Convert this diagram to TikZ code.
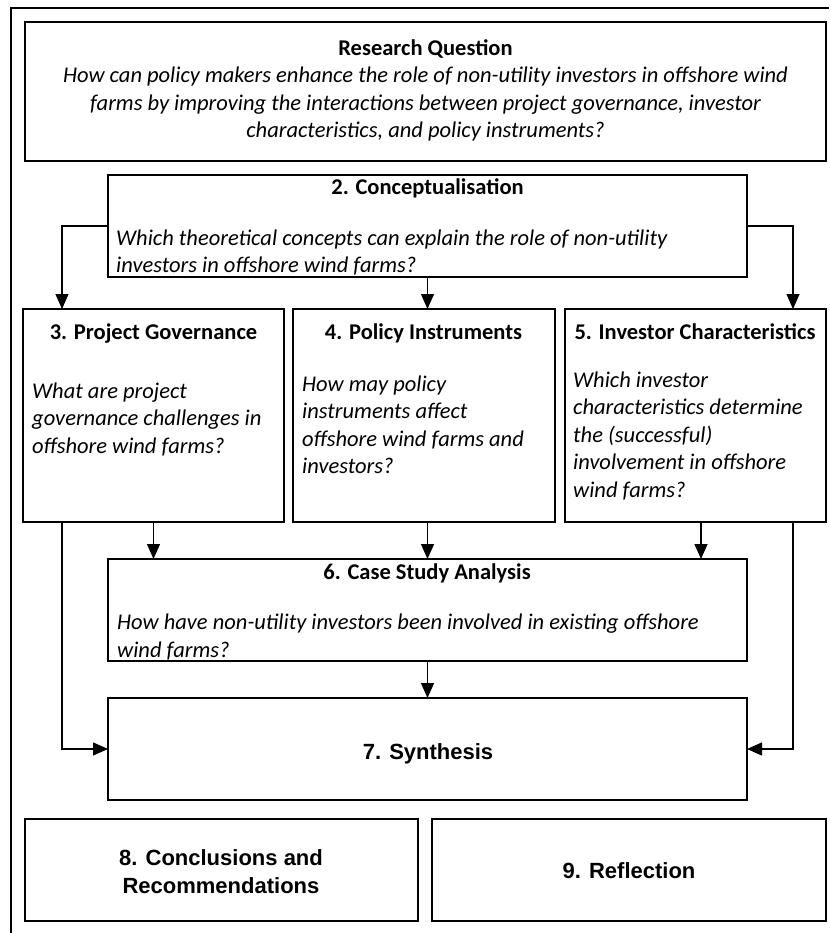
\documentclass[tikz,border=0pt]{standalone}
\usepackage{fontspec}
\setmainfont{Carlito}
\newfontfamily\arialfont{Liberation Sans}
\usetikzlibrary{arrows.meta,calc}

\tikzset{
	box/.style={draw, line width=1.2pt, inner sep=0pt, outer sep=0pt},
	head/.style={font=\fontsize{22.5}{27.5}\selectfont\bfseries, inner sep=0pt, anchor=base},
	ques/.style={font=\fontsize{22.5}{27.5}\selectfont\itshape, align=left, inner sep=0pt, anchor=base west},
	big/.style={font=\arialfont\fontsize{22}{28}\selectfont\bfseries, align=center, inner sep=0pt, anchor=base},
	arr/.style={line width=1.2pt, -{Triangle[length=15pt,width=13pt]}},
}

\begin{document}
\begin{tikzpicture}[x=1pt,y=-1pt]
	\useasboundingbox (0,0) rectangle (829,933);
	\draw[line width=1.5pt] (11,933) -- (11,8) -- (829,8);

	% boxes
	\node[box, minimum width=801pt, minimum height=139pt] (rq) at (425.5,91.5) {};
	\node[box, minimum width=639pt, minimum height=102pt] (concept) at (427.5,226) {};
	\node[box, minimum width=261pt, minimum height=213pt] (govern) at (153.5,415.5) {};
	\node[box, minimum width=262pt, minimum height=213pt] (policy) at (424,415.5) {};
	\node[box, minimum width=261pt, minimum height=213pt] (investor) at (695.5,415.5) {};
	\node[box, minimum width=639pt, minimum height=102pt] (casestudy) at (427.5,610) {};
	\node[box, minimum width=639pt, minimum height=102pt] (synth) at (427.5,749) {};
	\node[box, minimum width=393pt, minimum height=102pt] (concl) at (221.5,870) {};
	\node[box, minimum width=394pt, minimum height=102pt] (reflect) at (629,870) {};

	% texts (multi-line nodes sit on the baseline of their last line)
	\node[head] (rqhead) at (425.5,56) {Research Question};
	\node[ques, align=center, anchor=base] (rqtext) at (425.5,138) {How can policy makers enhance the role of non-utility investors in offshore wind\\farms by improving the interactions between project governance, investor\\characteristics, and policy instruments?};

	\node[head] (concepthead) at (427.5,195) {2. Conceptualisation};
	\node[ques] (concepttext) at (116,272.5) {Which theoretical concepts can explain the role of non-utility\\investors in offshore wind farms?};

	\node[head] (governhead) at (153.5,339) {3. Project Governance};
	\node[ques] (governtext) at (32,453) {What are project\\governance challenges in\\offshore wind farms?};

	\node[head] (policyhead) at (423.5,339) {4. Policy Instruments};
	\node[ques] (policytext) at (302,473.5) {How may policy\\instruments affect\\offshore wind farms and\\investors?};

	\node[head] (investorhead) at (695,339) {5. Investor Characteristics};
	\node[ques] (investortext) at (573,497) {Which investor\\characteristics determine\\the (successful)\\involvement in offshore\\wind farms?};

	\node[head] (casehead) at (427,579) {6. Case Study Analysis};
	\node[ques] (casetext) at (117,657) {How have non-utility investors been involved in existing offshore\\wind farms?};

	\node[big] (synthtext) at (428,759) {7. Synthesis};
	\node[big] (concltext) at (221,893) {8. Conclusions and\\Recommendations};
	\node[big] (reflecttext) at (629,878) {9. Reflection};

	% arrows
	\draw[arr] (concept.west) -| ($(govern.north west)+(39,0)$);
	\draw[arr] (concept.east) -| ($(investor.north east)+(-33,0)$);
	\draw[arr] (concept.south) -- (concept.south |- policy.north);
	\draw[arr] (govern.south) -- (govern.south |- casestudy.north);
	\draw[arr] (casestudy.north |- policy.south) -- (casestudy.north);
	\draw[arr] ($(investor.south)+(5.5,0)$) -- ($(investor.south |- casestudy.north)+(5.5,0)$);
	\draw[arr] (casestudy.south) -- (synth.north);
	\draw[arr] ($(govern.south west)+(39,0)$) |- (synth.west);
	\draw[arr] ($(investor.south east)+(-33,0)$) |- (synth.east);
\end{tikzpicture}
\end{document}
